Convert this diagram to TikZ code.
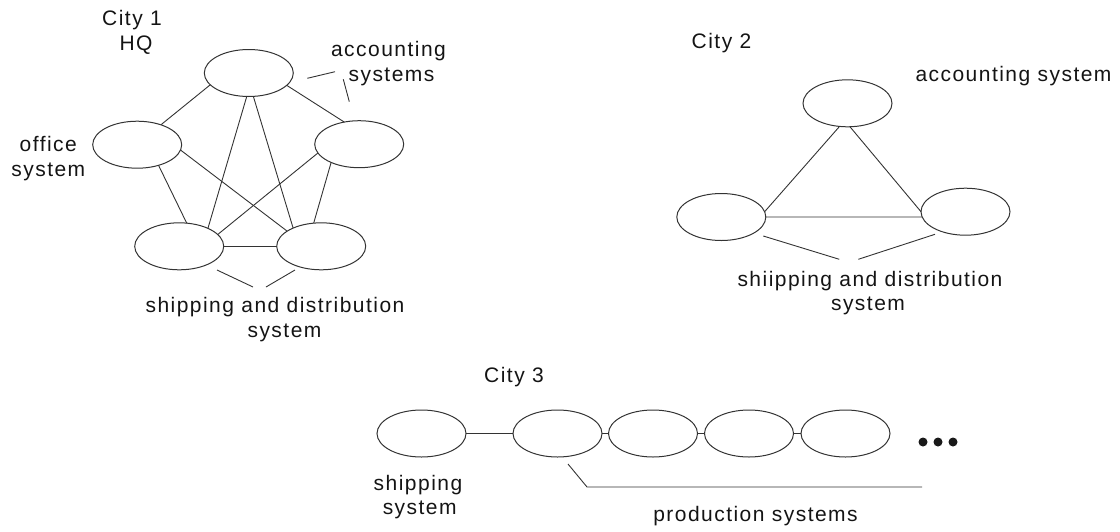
\documentclass[tikz,border=0pt]{standalone}
\usepackage{fontspec}
\usetikzlibrary{shapes.geometric}
\newfontfamily\labelfont[LetterSpace=7]{Liberation Sans}
\begin{document}
\begin{tikzpicture}[x=1pt,y=-1pt,
  sysnode/.style={ellipse,draw=black!80,line width=1pt,minimum width=89pt,minimum height=47pt,inner sep=0pt,outer sep=0pt},
  link/.style={draw=black!80,line width=0.9pt},
  dotnode/.style={circle,fill=black!90,minimum size=9pt,inner sep=0pt},
  lbl/.style={font=\labelfont\fontsize{21pt}{25pt}\selectfont,text=black!92,inner sep=0pt,anchor=base}]
\useasboundingbox (0,0) rectangle (1120,531);

% ---------- City 1: fully meshed HQ ----------
\node[sysnode] (T)  at (248.8,73)    {};
\node[sysnode] (L)  at (137.2,144.7) {};
\node[sysnode] (R)  at (359.2,144.2) {};
\node[sysnode] (BL) at (179.2,246.3) {};
\node[sysnode] (BR) at (321.2,246.3) {};

\draw[link] (T.197) -- (L.40);
\draw[link] (T.-18) -- (R.124);
\draw[link] (T.265) -- (BL.32);
\draw[link] (T.281) -- (BR.147);
\draw[link] (L.316) -- (BL.72);
\draw[link] (L.353) -- (BR.156);
\draw[link] (R.192) -- (BL.17);
\draw[link] (R.213) -- (BR.108);
\draw[link] (BL.east) -- (BR.west);

\node[lbl] (c1a) at (132,25) {City 1};
\node[lbl] (c1b) at (136,50) {HQ};
\node[lbl] (acc1a) at (388.5,56.7) {accounting};
\node[lbl] (acc1b) at (391.5,81) {systems};
\node[lbl] (off1a) at (48.3,151.7) {office};
\node[lbl] (off1b) at (48.3,176.7) {system};
\node[lbl] (shp1a) at (275,312.5) {shipping and distribution};
\node[lbl] (shp1b) at (284.5,337) {system};

\coordinate (a1s) at (307.3,78.3);  \coordinate (a1e) at (335,71.7);
\coordinate (a2s) at (343.3,79.3);  \coordinate (a2e) at (349.3,101.7);
\coordinate (s1s) at (217,270);     \coordinate (s1e) at (253,287);
\coordinate (s2s) at (266,287);     \coordinate (s2e) at (295,270);
\draw[link] (a1s) -- (a1e);
\draw[link] (a2s) -- (a2e);
\draw[link] (s1s) -- (s1e);
\draw[link] (s2s) -- (s2e);

% ---------- City 2: triangle ----------
\node[sysnode] (T2) at (847.5,103.3) {};
\node[sysnode] (L2) at (721.3,217)   {};
\node[sysnode] (R2) at (965.5,211.7) {};

\draw[link] (T2.251) -- (L2.7);
\draw[link] (T2.276) -- (R2.180);
\draw[link] (L2.east) -- (R2.187);

\node[lbl] (c2) at (721.5,48.3) {City 2};
\node[lbl] (acc2) at (1013.5,81.7) {accounting system};
\node[lbl] (shp2a) at (870,286.7) {shiipping and distribution};
\node[lbl] (shp2b) at (868,310) {system};

\coordinate (t1s) at (763.3,236);   \coordinate (t1e) at (839.3,259.3);
\coordinate (t2s) at (858.3,259.3); \coordinate (t2e) at (935,234.3);
\draw[link] (t1s) -- (t1e);
\draw[link] (t2s) -- (t2e);

% ---------- City 3: chain ----------
\node[sysnode] (E1) at (421.5,433.5) {};
\node[sysnode] (E2) at (557.5,433.5) {};
\node[sysnode] (E3) at (653,433.5)   {};
\node[sysnode] (E4) at (749,433.5)   {};
\node[sysnode] (E5) at (845.5,433.5) {};

\draw[link] (E1.east) -- (E2.west);
\draw[link] (E2.east) -- (E3.west);
\draw[link] (E3.east) -- (E4.west);
\draw[link] (E4.east) -- (E5.west);

\node[dotnode] (d1) at (923,442) {};
\node[dotnode] (d2) at (938,442) {};
\node[dotnode] (d3) at (953,442) {};

\node[lbl] (c3) at (514,382.7) {City 3};
\node[lbl] (sh3a) at (418,490.7) {shipping};
\node[lbl] (sh3b) at (419.7,514.5) {system};
\node[lbl] (prod) at (755.5,521.7) {production systems};

\coordinate (p1) at (568,464);
\coordinate (p2) at (587,487);
\coordinate (p3) at (922,487);
\draw[link] (p1) -- (p2) -- (p3);
\end{tikzpicture}
\end{document}
